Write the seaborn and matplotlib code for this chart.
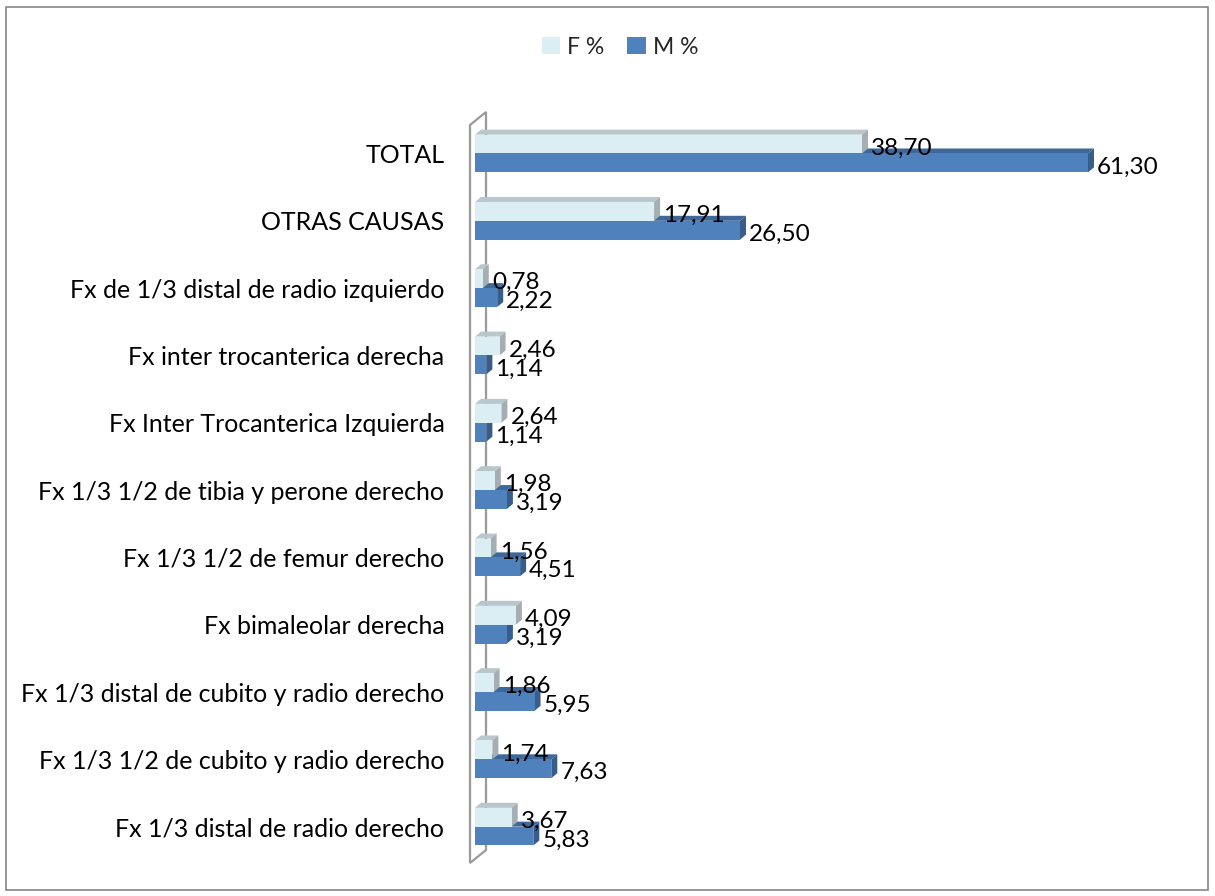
import matplotlib
matplotlib.use("Agg")
import matplotlib.pyplot as plt
import seaborn as sns
import pandas as pd
from matplotlib.patches import Polygon, Rectangle, Patch

categories = [
    "TOTAL",
    "OTRAS CAUSAS",
    "Fx de 1/3 distal de radio izquierdo",
    "Fx inter trocanterica derecha",
    "Fx Inter Trocanterica Izquierda",
    "Fx 1/3 1/2 de tibia y perone derecho",
    "Fx 1/3 1/2 de femur derecho",
    "Fx bimaleolar derecha",
    "Fx 1/3 distal de cubito y radio derecho",
    "Fx 1/3 1/2 de cubito y radio derecho",
    "Fx 1/3 distal de radio derecho",
]
f_pct = [38.70, 17.91, 0.78, 2.46, 2.64, 1.98, 1.56, 4.09, 1.86, 1.74, 3.67]
m_pct = [61.30, 26.50, 2.22, 1.14, 1.14, 3.19, 4.51, 3.19, 5.95, 7.63, 5.83]
series = ["F %", "M %"]

face_colors = {"F %": "#DBEEF4", "M %": "#4F81BD"}
side_colors = {"F %": "#A5AFB3", "M %": "#375D8B"}
top_colors = {"F %": "#B9C7CC", "M %": "#3E679A"}

df = pd.DataFrame({
    "Causa": categories * 2,
    "Valor": f_pct + m_pct,
    "Serie": [series[0]] * len(categories) + [series[1]] * len(categories),
})

sns.set_theme(style="white")
plt.rcParams["font.family"] = ["Lato", "DejaVu Sans"]

W, H, DPI = 1215, 896, 100
fig = plt.figure(figsize=(W / DPI, H / DPI), dpi=DPI)
ax_left, ax_right, ax_top, ax_bottom = 475, 1175, 110, 865
ax = fig.add_axes([ax_left / W, 1 - ax_bottom / H,
                   (ax_right - ax_left) / W, (ax_bottom - ax_top) / H])

sns.barplot(data=df, y="Causa", x="Valor", hue="Serie", orient="h",
            palette=face_colors, width=0.56, ax=ax, legend=False,
            saturation=1, linewidth=0)

xmin, xmax = 0, 70
ymin, ymax = len(categories) - 1 + 0.57, -0.646
ax.set_xlim(xmin, xmax)
ax.set_ylim(ymin, ymax)

# pixel-to-data conversion for the 3D depth of each bar
px_x = (ax_right - ax_left) / (xmax - xmin)
px_y = (ax_bottom - ax_top) / (ymin - ymax)
dx = 6 / px_x
dy = 5 / px_y

bars = [p for p in ax.patches if isinstance(p, Rectangle) and p.get_height() > 0]
n = len(categories)
for i, p in enumerate(bars):
    serie = series[0] if i < n else series[1]
    x0, y0 = p.get_x(), p.get_y()
    w, h = p.get_width(), p.get_height()
    x1, yt, yb = x0 + w, y0, y0 + h
    base = 2 if serie == "M %" else 5
    p.set_zorder(base + 1)
    top = Polygon([(x0, yt), (x0 + dx, yt - dy), (x1 + dx, yt - dy), (x1, yt)],
                  closed=True, facecolor=top_colors[serie], edgecolor="none",
                  zorder=base)
    side = Polygon([(x1, yt), (x1 + dx, yt - dy), (x1 + dx, yb - dy), (x1, yb)],
                   closed=True, facecolor=side_colors[serie], edgecolor="none",
                   zorder=base)
    ax.add_patch(top)
    ax.add_patch(side)
    yc = (yt + yb) / 2
    ax.text(x1 + dx + 0.3, yc + 0.06, f"{w:.2f}".replace(".", ","),
            ha="left", va="center", fontsize=17.5, color="#000000", zorder=10)

# side wall of the 3D plot area, drawn behind the axes
wall_px = [(470, 125), (486, 112), (486, 850), (470, 863)]
wall = Polygon([(x / DPI, (H - y) / DPI) for x, y in wall_px], closed=True,
               transform=fig.dpi_scale_trans, facecolor="white",
               edgecolor="#9A9A9A", linewidth=1.6, zorder=-1)
fig.add_artist(wall)

ax.set_xlabel("")
ax.set_ylabel("")
ax.set_xticks([])
ax.tick_params(axis="y", length=0, pad=22, labelsize=18, colors="#000000")
for s in ax.spines.values():
    s.set_visible(False)
ax.patch.set_alpha(0)

handles = [Patch(facecolor=face_colors[s], edgecolor="none", label=s) for s in series]
fig.legend(handles=handles, loc="center", bbox_to_anchor=(620 / W, 1 - 47 / H),
           ncol=2, frameon=False, fontsize=16.5, handlelength=0.8, handleheight=0.8,
           handletextpad=0.3, columnspacing=1.0)

fig.add_artist(Rectangle((6 / W, 6 / H), 1 - 13 / W, 1 - 13 / H,
                         transform=fig.transFigure, fill=False,
                         edgecolor="#868686", linewidth=1.2))

fig.savefig("out.png", dpi=DPI)
